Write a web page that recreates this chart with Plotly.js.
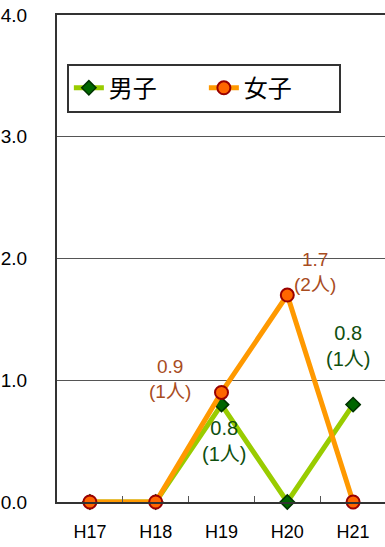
<!DOCTYPE html>
<html>
<head>
<meta charset="utf-8">
<script src="https://cdn.plot.ly/plotly-3.0.1.min.js"></script>
<style>
  body { margin: 0; padding: 0; background: #fff; }
  #plot { width: 386px; height: 547px; }
</style>
</head>
<body>
<div id="plot"></div>
<script>
// years and rates
var years = ["H17", "H18", "H19", "H20", "H21"];
var male = [0, 0, 0.8, 0, 0.8];
var female = [0, 0, 0.9, 1.7, 0];

var trace1 = {
  x: years,
  y: male,
  mode: "lines+markers",
  type: "scatter",
  name: "男子",
  cliponaxis: false,
  line: { color: "#99cc00", width: 5 },
  marker: {
    color: "#006600",
    symbol: "diamond",
    size: 11,
    line: { color: "#003300", width: 1.5 }
  }
};

var trace2 = {
  x: years,
  y: female,
  mode: "lines+markers",
  type: "scatter",
  name: "女子",
  cliponaxis: false,
  line: { color: "#ff9900", width: 5 },
  marker: {
    color: "#ff6600",
    symbol: "circle",
    size: 13,
    line: { color: "#990000", width: 2 }
  }
};

var data = [trace1, trace2];

var brown = "#a84c1e";
var green = "#0f4f0f";
var fam = "Liberation Sans, Noto Sans CJK JP, sans-serif";

var layout = {
  width: 386,
  height: 547,
  margin: { l: 57, r: 0, t: 15, b: 45 },
  paper_bgcolor: "#fff",
  plot_bgcolor: "#fff",
  font: { family: fam, color: "#000" },
  showlegend: true,
  legend: {
    orientation: "h",
    x: 0.03,
    y: 0.9,
    xanchor: "left",
    yanchor: "top",
    bordercolor: "#333",
    borderwidth: 2,
    bgcolor: "#fff",
    font: { size: 24, family: "Noto Sans CJK JP, sans-serif" },
    entrywidth: 90,
    traceorder: "normal"
  },
  xaxis: {
    type: "category",
    range: [-0.5, 4.5],
    showline: true,
    linecolor: "#333",
    linewidth: 2,
    mirror: true,
    ticks: "inside",
    tickson: "boundaries",
    ticklen: 6,
    tickcolor: "#555",
    showgrid: false,
    ticklabelstandoff: 12,
    tickfont: { size: 18 }
  },
  yaxis: {
    range: [0, 4],
    dtick: 1,
    tickformat: ".1f",
    showline: true,
    linecolor: "#333",
    linewidth: 2,
    showgrid: true,
    gridcolor: "#555",
    gridwidth: 1,
    zeroline: false,
    ticks: "",
    ticklabelstandoff: 24,
    tickfont: { size: 19 }
  },
  annotations: [
    { x: 1.22, y: 1.01, xref: "x", yref: "y", text: "0.9<br>(1人)", showarrow: false,
      font: { size: 19, color: brown } },
    { x: 3.42, y: 1.89, xref: "x", yref: "y", text: "1.7<br>(2人)", showarrow: false,
      font: { size: 19, color: brown } },
    { x: 2.04, y: 0.50, xref: "x", yref: "y", text: "0.8<br>(1人)", showarrow: false,
      font: { size: 20, color: green } },
    { x: 3.92, y: 1.28, xref: "x", yref: "y", text: "0.8<br>(1人)", showarrow: false,
      font: { size: 20, color: green } }
  ]
};

Plotly.newPlot("plot", data, layout, { displayModeBar: false, staticPlot: true });
</script>
</body>
</html>
